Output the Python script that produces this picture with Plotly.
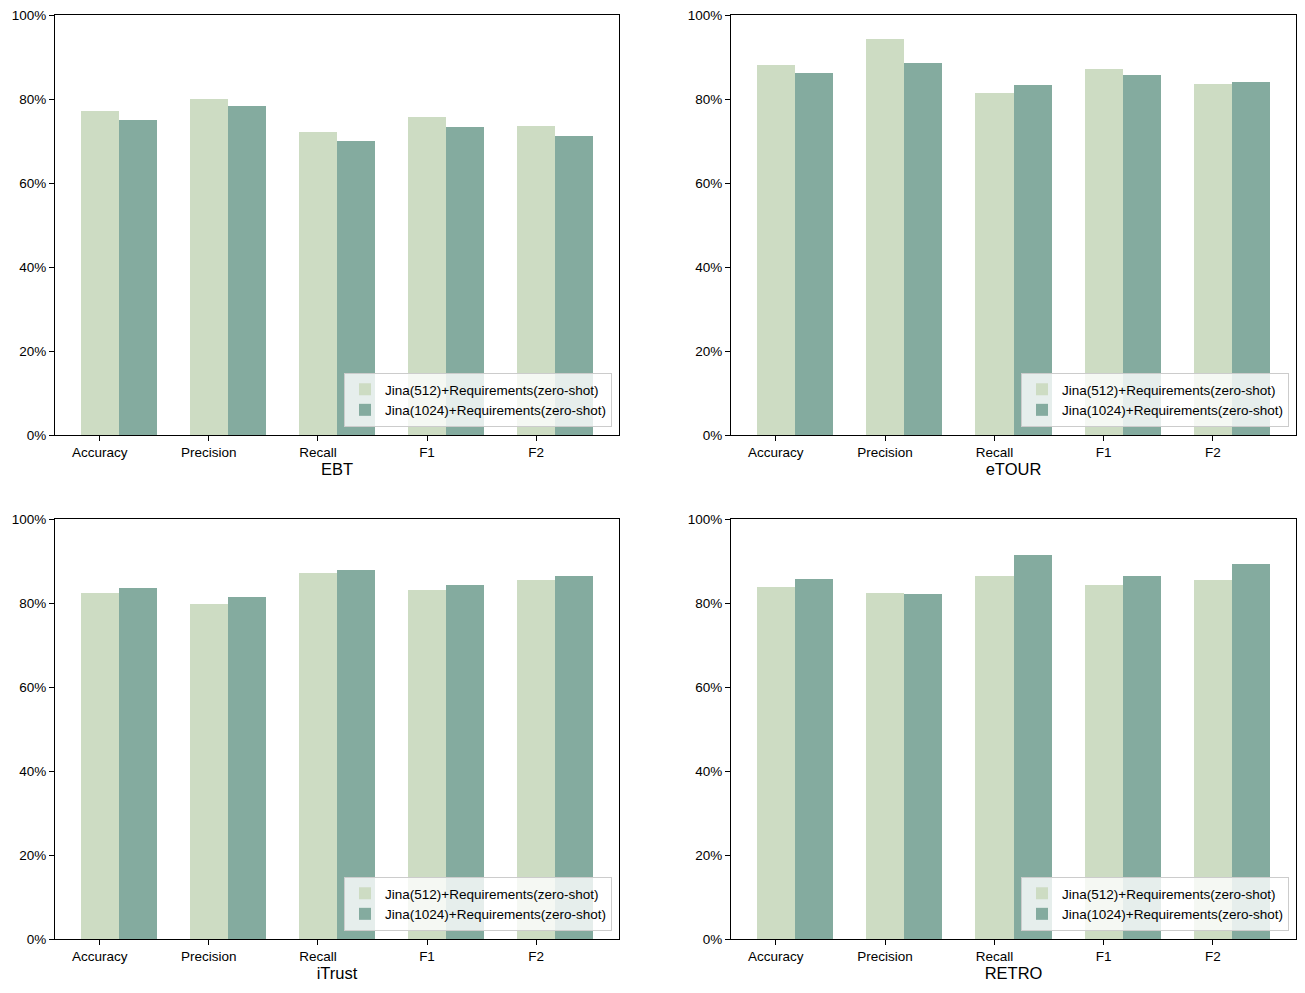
import plotly.graph_objects as go

categories = ["Accuracy", "Precision", "Recall", "F1", "F2"]
datasets = ["EBT", "eTOUR", "iTrust", "RETRO"]
series_names = ["Jina(512)+Requirements(zero-shot)", "Jina(1024)+Requirements(zero-shot)"]
y_ticks = [0, 20, 40, 60, 80, 100]
y_tick_labels = ["0%", "20%", "40%", "60%", "80%", "100%"]

ebt_512 = [77.1, 80.0, 72.1, 75.7, 73.6]
ebt_1024 = [75.0, 78.3, 70.0, 73.3, 71.2]
etour_512 = [88.1, 94.3, 81.5, 87.1, 83.6]
etour_1024 = [86.2, 88.6, 83.3, 85.7, 84.0]
itrust_512 = [82.4, 79.7, 87.2, 83.2, 85.5]
itrust_1024 = [83.6, 81.5, 87.9, 84.3, 86.4]
retro_512 = [83.9, 82.4, 86.4, 84.3, 85.5]
retro_1024 = [85.7, 82.2, 91.4, 86.4, 89.3]

values = {
    "EBT": (ebt_512, ebt_1024),
    "eTOUR": (etour_512, etour_1024),
    "iTrust": (itrust_512, itrust_1024),
    "RETRO": (retro_512, retro_1024),
}

colors = ["#cddcc3", "#84ab9f"]
W, H = 1305, 993
font = "Liberation Sans, Arial, sans-serif"

# pixel boxes of plot areas: (x0, x1, y0_top, y1_bottom)
boxes = [(55, 619, 15, 435), (731, 1296, 15, 435), (55, 619, 519, 939), (731, 1296, 519, 939)]

fig = go.Figure()
bw = 0.35
xs = list(range(len(categories)))
layout = {}
for i, name in enumerate(datasets):
    sfx = "" if i == 0 else str(i + 1)
    lg = "legend" + sfx
    for j in range(2):
        fig.add_trace(go.Bar(
            x=xs, y=values[name][j], name=series_names[j],
            marker=dict(color=colors[j], line=dict(width=0)),
            width=bw, offset=-bw / 2 + j * bw,
            xaxis="x" + sfx, yaxis="y" + sfx, legend=lg,
            showlegend=True, hoverinfo="skip",
        ))
    x0, x1, yt, yb = boxes[i]
    layout["xaxis" + sfx] = dict(
        domain=[x0 / W, x1 / W], anchor="y" + sfx, automargin=False,
        range=[-0.41, 4.76], tickvals=xs, ticktext=categories,
        showline=True, linecolor="black", linewidth=1, mirror=True,
        ticks="outside", ticklen=5, tickcolor="black", showgrid=False, zeroline=False,
        tickfont=dict(size=13.5, color="black", family=font),
        title=dict(text=name, font=dict(size=16.5, color="black", family=font), standoff=4),
    )
    layout["yaxis" + sfx] = dict(
        domain=[1 - yb / H, 1 - yt / H], anchor="x" + sfx, automargin=False,
        range=[0, 100], tickvals=y_ticks, ticktext=y_tick_labels,
        showline=True, linecolor="black", linewidth=1, mirror=True,
        ticks="outside", ticklen=5, tickcolor="black", showgrid=False, zeroline=False,
        tickfont=dict(size=13.5, color="black", family=font),
    )
    layout[lg] = dict(
        x=(x1 - 7) / W, y=1 - (yb - 8) / H, xanchor="right", yanchor="bottom",
        bgcolor="rgba(255,255,255,0.8)", bordercolor="#cccccc", borderwidth=1,
        font=dict(size=13.5, color="black", family=font),
        tracegroupgap=0, itemsizing="constant",
    )

fig.update_layout(
    width=W, height=H, margin=dict(l=0, r=0, t=0, b=0, autoexpand=False),
    paper_bgcolor="white", plot_bgcolor="white",
    barmode="overlay", bargap=0,
    font=dict(family=font, color="black"),
    **layout,
)
fig.write_html(
    "out.html",
    config={"displayModeBar": False},
    post_script="document.body.style.margin='0';document.body.style.overflow='hidden';",
)
